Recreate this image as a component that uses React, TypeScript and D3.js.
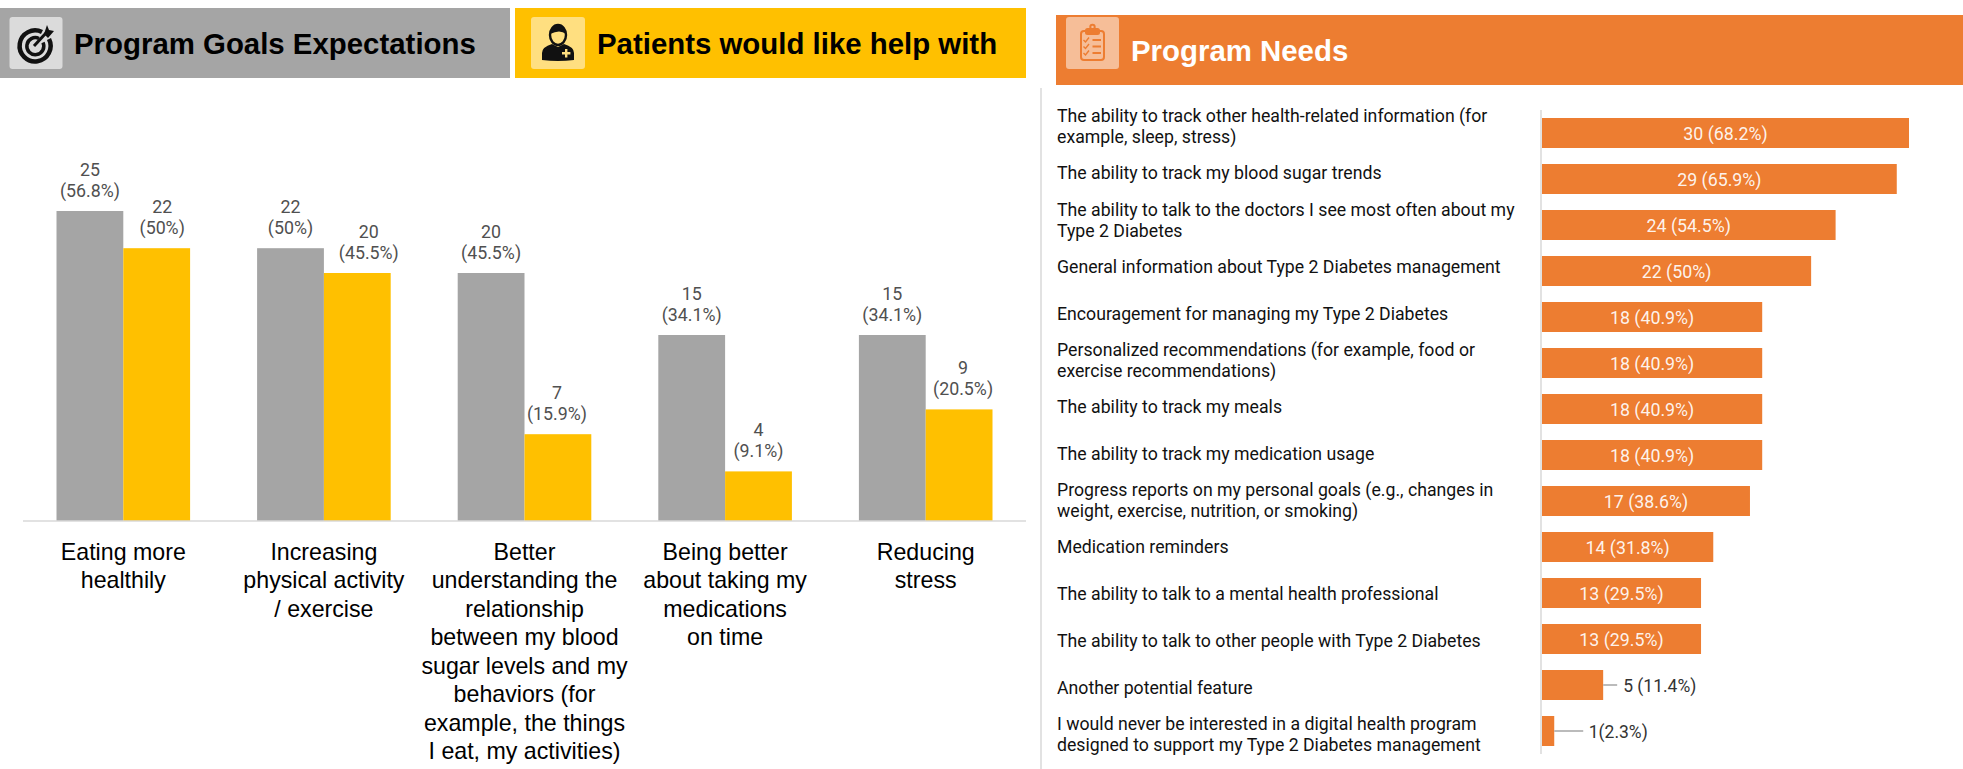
import React from "react";
import * as d3 from "d3";

const goalCategories = [
  ["Eating more", "healthily"],
  ["Increasing", "physical activity", "/ exercise"],
  ["Better", "understanding the", "relationship", "between my blood", "sugar levels and my", "behaviors (for", "example, the things", "I eat, my activities)"],
  ["Being better", "about taking my", "medications", "on time"],
  ["Reducing", "stress"],
];
const goalCounts = [25, 22, 20, 15, 15];
const goalPercents = ["56.8%", "50%", "45.5%", "34.1%", "34.1%"];
const helpCounts = [22, 20, 7, 4, 9];
const helpPercents = ["50%", "45.5%", "15.9%", "9.1%", "20.5%"];

const needLabels = [
  ["The ability to track other health-related information (for", "example, sleep, stress)"],
  ["The ability to track my blood sugar trends"],
  ["The ability to talk to the doctors I see most often about my", "Type 2 Diabetes"],
  ["General information about Type 2 Diabetes management"],
  ["Encouragement for managing my Type 2 Diabetes"],
  ["Personalized recommendations (for example, food or", "exercise recommendations)"],
  ["The ability to track my meals"],
  ["The ability to track my medication usage"],
  ["Progress reports on my personal goals (e.g., changes in", "weight, exercise, nutrition, or smoking)"],
  ["Medication reminders"],
  ["The ability to talk to a mental health professional"],
  ["The ability to talk to other people with Type 2 Diabetes"],
  ["Another potential feature"],
  ["I would never be interested in a digital health program", "designed to support my Type 2 Diabetes management"],
];
const needCounts = [30, 29, 24, 22, 18, 18, 18, 18, 17, 14, 13, 13, 5, 1];
const needValueLabels = [
  "30 (68.2%)", "29 (65.9%)", "24 (54.5%)", "22 (50%)", "18 (40.9%)", "18 (40.9%)", "18 (40.9%)",
  "18 (40.9%)", "17 (38.6%)", "14 (31.8%)", "13 (29.5%)", "13 (29.5%)", "5 (11.4%)", "1(2.3%)",
];

const GRAY = "#a5a5a5";
const YELLOW = "#ffc000";
const ORANGE = "#ed7d31";
const ARIAL = "'Liberation Sans', Arial, sans-serif";
const ROBOTO = "Roboto, sans-serif";

const WIDTH = 1963;
const HEIGHT = 769;
const BASELINE = 521;

// Yellow column labels are pulled right so they clear the taller neighbouring column.
const HELP_LABEL_NUDGE = [5.5, 11.5, -1, 0, 4];

const groupX = d3.scaleBand<number>().domain(d3.range(goalCategories.length)).range([23, 1026]).paddingInner(0.334).paddingOuter(0.167);
const barY = d3.scaleLinear().domain([0, 25]).range([BASELINE, 211]);

const needX = d3.scaleLinear().domain([0, 30]).range([1542, 1909]);
const needY = d3.scaleBand<number>().domain(d3.range(needCounts.length)).range([110, 754]).paddingInner(16 / 46).paddingOuter(8 / 46);
const needTextY = d3.scalePoint<number>().domain(d3.range(needCounts.length)).range([126.5, 734.5]);

function TargetIcon() {
  return (
    <g transform="translate(35,46)" fill="none" stroke="#111">
      <path d="M 7 -14 A 15.5 15.5 0 1 0 14 -7" strokeWidth={4.5} />
      <path d="M 4 -7.5 A 8.5 8.5 0 1 0 8 -3.5" strokeWidth={3.5} />
      <line x1={-1} y1={0} x2={11} y2={-13} strokeWidth={3} />
      <path d="M 9 -12 L 12 -21 L 14 -16 L 19 -15 L 13 -8 Z" fill="#111" stroke="none" />
    </g>
  );
}

function DoctorIcon() {
  return (
    <g transform="translate(558,46)">
      <ellipse cx={0} cy={-11} rx={8} ry={10} fill="#ffdf80" stroke="#111" strokeWidth={2.4} />
      <path d="M -8 -12 A 8 9.5 0 0 1 8 -12 Q 2 -17 -8 -12 Z" fill="#111" />
      <path d="M -16 14 L -16 7 Q -16 1 -6 -2 L 0 1 L 6 -2 Q 16 1 16 7 L 16 14 Q 0 16 -16 14 Z" fill="#111" />
      <path d="M 7 3 h 2.4 v 3 h 3 v 2.4 h -3 v 3 h -2.4 v -3 h -3 v -2.4 h 3 Z" fill="#ffdf80" />
    </g>
  );
}

function ChecklistIcon() {
  return (
    <g transform="translate(1092.5,45)" fill="none" stroke={ORANGE} strokeWidth={2}>
      <rect x={-11.5} y={-14} width={23} height={29} rx={3} />
      <rect x={-6.5} y={-16} width={13} height={5} rx={1.5} fill={ORANGE} />
      <circle cx={0} cy={-18} r={2.2} />
      {[-5, 1.5, 8].map((y) => (
        <g key={y}>
          <path d={`M -9 ${y} l 2 2 l 3.5 -4.5`} strokeWidth={1.4} />
          <line x1={0} y1={y} x2={8.5} y2={y} />
        </g>
      ))}
    </g>
  );
}

function Banner(props: { x: number; y: number; w: number; h: number; fill: string; tileX: number; tileW: number; tileFill: string; text: string; textX: number; baseline: number; textFill: string; size: number }) {
  const { x, y, w, h, fill, tileX, tileW, tileFill, text, textX, baseline, textFill, size } = props;
  return (
    <g>
      <rect x={x} y={y} width={w} height={h} fill={fill} />
      <rect x={tileX} y={17} width={tileW} height={52} rx={3} fill={tileFill} />
      <text x={textX} y={baseline} fontFamily={ARIAL} fontWeight={700} fontSize={size} fill={textFill}>{text}</text>
    </g>
  );
}

function StackedLines({ lines, x, y, lineHeight, ...rest }: any) {
  return (
    <text {...rest}>
      {lines.map((line: string, i: number) => (
        <tspan key={i} x={x} y={y + i * lineHeight}>{line}</tspan>
      ))}
    </text>
  );
}

export default function App() {
  const bw = groupX.bandwidth() / 2;
  return (
    <svg width={WIDTH} height={HEIGHT} viewBox={`0 0 ${WIDTH} ${HEIGHT}`} style={{ position: "absolute", left: 0, top: 0, background: "#fff" }}>
      <Banner x={0} y={8} w={510} h={70} fill={GRAY} tileX={9.5} tileW={53} tileFill="#dbdbdb" text="Program Goals Expectations" textX={74} baseline={54} textFill="#000" size={29.4} />
      <Banner x={515} y={8} w={511} h={70} fill={YELLOW} tileX={531} tileW={54} tileFill="#ffdf80" text="Patients would like help with" textX={597} baseline={54} textFill="#000" size={29.4} />
      <Banner x={1056} y={15} w={907} h={70} fill={ORANGE} tileX={1066} tileW={53} tileFill="#f6be98" text="Program Needs" textX={1131} baseline={61} textFill="#fff" size={29.4} />
      <TargetIcon />
      <DoctorIcon />
      <ChecklistIcon />

      <line x1={1041} x2={1041} y1={88} y2={769} stroke="#d9d9d9" strokeWidth={1.5} />

      {/* Paired columns */}
      {goalCategories.map((lines, i) => {
        const x0 = groupX(i)!;
        const cx = x0 + bw;
        const series = [
          { x: x0, v: goalCounts[i], p: goalPercents[i], fill: GRAY, nudge: 0 },
          { x: x0 + bw, v: helpCounts[i], p: helpPercents[i], fill: YELLOW, nudge: HELP_LABEL_NUDGE[i] },
        ];
        return (
          <g key={i}>
            {series.map((s, k) => (
              <g key={k}>
                <rect x={s.x} y={barY(s.v)} width={bw} height={BASELINE - barY(s.v)} fill={s.fill} />
                <StackedLines
                  lines={[String(s.v), `(${s.p})`]}
                  x={s.x + bw / 2 + s.nudge}
                  y={barY(s.v) - 35}
                  lineHeight={21}
                  textAnchor="middle"
                  fontFamily={ROBOTO}
                  fontSize={17.8}
                  fill="#505050"
                />
              </g>
            ))}
            <StackedLines
              lines={lines}
              x={cx}
              y={560}
              lineHeight={28.45}
              textAnchor="middle"
              fontFamily={ARIAL}
              fontSize={23.2}
              fill="#000"
            />
          </g>
        );
      })}
      <line x1={23} x2={1026} y1={BASELINE} y2={BASELINE} stroke="#d9d9d9" strokeWidth={1.5} />

      {/* Horizontal feature bars */}
      <line x1={1541} x2={1541} y1={110} y2={754} stroke="#d9d9d9" strokeWidth={1.5} />
      {needCounts.map((v, i) => {
        const y = needY(i)!;
        const h = needY.bandwidth();
        const cy = y + h / 2;
        const end = needX(v);
        const inside = v > 5;
        const lines = needLabels[i];
        const textCy = needTextY(i)!;
        return (
          <g key={i}>
            <rect x={needX(0)} y={y} width={end - needX(0)} height={h} fill={ORANGE} />
            {inside ? (
              <text x={(needX(0) + end) / 2} y={cy + 6.5} textAnchor="middle" fontFamily={ROBOTO} fontSize={17.8} fill="#fff" fillOpacity={0.92}>{needValueLabels[i]}</text>
            ) : (
              <g>
                <line x1={end} x2={end + (v === 1 ? 29 : 14)} y1={cy} y2={cy} stroke={GRAY} strokeWidth={1.5} />
                <text x={end + (v === 1 ? 34.5 : 20)} y={cy + 6.5} fontFamily={ROBOTO} fontSize={17.5} fill="#333">{needValueLabels[i]}</text>
              </g>
            )}
            <StackedLines
              lines={lines}
              x={1057}
              y={textCy + 6 - ((lines.length - 1) * 21) / 2}
              lineHeight={21}
              fontFamily={ROBOTO}
              fontSize={17.7}
              fill="#111"
            />
          </g>
        );
      })}
    </svg>
  );
}
